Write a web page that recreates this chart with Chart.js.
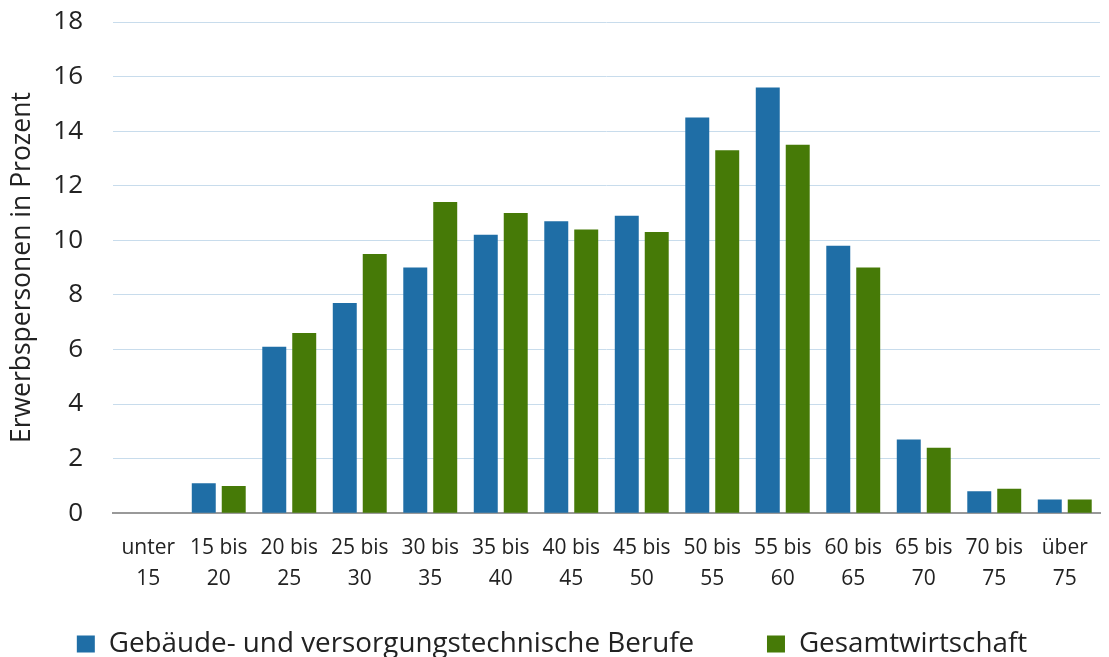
<!DOCTYPE html>
<html>
  <head>
    <title>Erwerbspersonen nach Alter</title>
    <style>
      html, body{ margin: 0; padding: 0; background-color: #ffffff; }
      .container{ position: relative; width: 1109px; height: 657px; }
    </style>
    <script src="https://cdn.jsdelivr.net/npm/chart.js"></script>
  </head>
  <body>
    <div class="container">
      <canvas id="myChart"></canvas>
    </div>

    <script>
      // Daten
      const ageGroups = [
        ['unter', '15'], ['15 bis', '20'], ['20 bis', '25'], ['25 bis', '30'], ['30 bis', '35'],
        ['35 bis', '40'], ['40 bis', '45'], ['45 bis', '50'], ['50 bis', '55'], ['55 bis', '60'],
        ['60 bis', '65'], ['65 bis', '70'], ['70 bis', '75'], ['über', '75']
      ];
      const gebaeudeBerufe = [0, 1.1, 6.1, 7.7, 9.0, 10.2, 10.7, 10.9, 14.5, 15.6, 9.8, 2.7, 0.8, 0.5];
      const gesamtwirtschaft = [0, 1.0, 6.6, 9.5, 11.4, 11.0, 10.4, 10.3, 13.3, 13.5, 9.0, 2.4, 0.9, 0.5];

      const font = 'Open Sans';

      const ctx = document.getElementById('myChart').getContext('2d');
      const myChart = new Chart(ctx, {
        type: 'bar',
        data: {
          labels: ageGroups,
          datasets: [
            {
              label: 'Gebäude- und versorgungstechnische Berufe',
              data: gebaeudeBerufe,
              backgroundColor: '#1f6ea6',
              categoryPercentage: 0.85,
              barPercentage: 0.8
            },
            {
              label: 'Gesamtwirtschaft',
              data: gesamtwirtschaft,
              backgroundColor: '#467a07',
              categoryPercentage: 0.85,
              barPercentage: 0.8
            }
          ]
        },
        options: {
          responsive: true,
          maintainAspectRatio: false,
          animation: false,
          layout: { padding: { left: 4, right: 9, top: 22, bottom: -11 } },
          scales: {
            y: {
              min: 0,
              max: 18,
              ticks: { stepSize: 2, color: '#222', padding: 30, font: { family: font, size: 26 } },
              grid: { color: '#c8dcec', lineWidth: 1, drawTicks: false },
              border: { display: false },
              title: {
                display: true,
                text: 'Erwerbspersonen in Prozent',
                color: '#222',
                font: { family: font, size: 26.5 },
                padding: { top: 3, bottom: 0 }
              },
              afterFit: (scale) => {
                scale.width = 109;
                // tick padding soll den Plotbereich oben nicht verschieben
                scale.paddingTop = 0;
                scale.paddingBottom = 0;
              }
            },
            x: {
              ticks: { color: '#222', padding: 20, maxRotation: 0, autoSkip: false, font: { family: font, size: 21, lineHeight: 1.45 } },
              grid: { display: false, drawTicks: false },
              border: { color: '#999', width: 2 },
              afterFit: (scale) => { scale.height = 107; }
            }
          },
          plugins: {
            legend: {
              position: 'bottom',
              labels: {
                color: '#222',
                boxWidth: 18,
                boxHeight: 17,
                padding: 10,
                font: { family: font, size: 27.8 },
                // mehr Abstand zwischen den beiden Legendeneinträgen
                generateLabels: (chart) => {
                  const items = Chart.defaults.plugins.legend.labels.generateLabels(chart);
                  items[0].text = items[0].text + '\u2003\u2003 ';
                  return items;
                }
              }
            },
            tooltip: { enabled: false }
          }
        }
      });
    </script>
  </body>
</html>
